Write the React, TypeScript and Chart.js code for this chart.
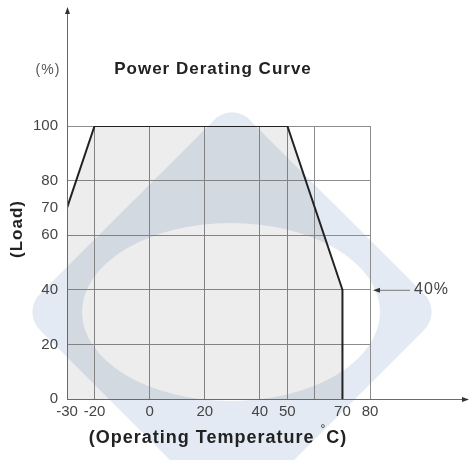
import React, { useEffect, useRef } from "react";
import { Chart, registerables } from "chart.js";

Chart.register(...registerables);

const curveTemps = [-30, -20, 50, 70, 70];
const curveLoads = [70, 100, 100, 40, 0];
const xTickLabels = [-30, -20, 0, 20, 40, 50, 70, 80];
const xGridValues = [-20, 0, 20, 40, 50, 60, 80];
const yTickLabels = [0, 20, 40, 60, 70, 80, 100];
const yGridValues = [20, 40, 60, 80, 100];
const annotationValue = 40;

const FONT = "'Liberation Sans', Arial, sans-serif";

export default function App() {
  const ref = useRef<HTMLCanvasElement | null>(null);

  useEffect(() => {
    const canvas = ref.current;
    if (!canvas) return;

    const watermark = {
      id: "watermark",
      beforeDraw(chart: any) {
        const c = chart.ctx;
        c.save();
        c.translate(232, 312);
        c.rotate(Math.PI / 4);
        c.fillStyle = "#e4eaf3";
        c.beginPath();
        (c as any).roundRect(-148.5, -148.5, 297, 297, 25);
        c.fill();
        c.restore();
        c.save();
        c.fillStyle = "#ffffff";
        c.beginPath();
        c.ellipse(231, 312, 149, 89, 0, 0, Math.PI * 2);
        c.fill();
        c.restore();
      },
    };

    const decorations = {
      id: "decorations",
      afterDraw(chart: any) {
        const c = chart.ctx as any;
        const xs = chart.scales.x;
        const ys = chart.scales.y;
        const x0 = xs.getPixelForValue(-30);
        const y0 = ys.getPixelForValue(0);
        c.save();
        // axes
        c.strokeStyle = "#6a6a6a";
        c.fillStyle = "#333";
        c.lineWidth = 1;
        c.beginPath();
        c.moveTo(x0 + 0.5, y0);
        c.lineTo(x0 + 0.5, 12);
        c.moveTo(x0, y0 + 0.5);
        c.lineTo(464, y0 + 0.5);
        c.stroke();
        c.beginPath();
        c.moveTo(x0 + 0.5, 7);
        c.lineTo(x0 - 2, 14);
        c.lineTo(x0 + 3, 14);
        c.closePath();
        c.fill();
        c.beginPath();
        c.moveTo(469, y0 + 0.5);
        c.lineTo(462, y0 - 2);
        c.lineTo(462, y0 + 3);
        c.closePath();
        c.fill();

        // 40% annotation
        const ya = ys.getPixelForValue(annotationValue);
        c.strokeStyle = "#777";
        c.beginPath();
        c.moveTo(376, ya + 0.5);
        c.lineTo(410, ya + 0.5);
        c.stroke();
        c.fillStyle = "#333";
        c.beginPath();
        c.moveTo(373, ya + 0.5);
        c.lineTo(380, ya - 2);
        c.lineTo(380, ya + 3);
        c.closePath();
        c.fill();
        c.fillStyle = "#444";
        c.letterSpacing = "1px";
        c.font = `16px ${FONT}`;
        c.textAlign = "left";
        c.textBaseline = "middle";
        c.fillText(annotationValue + "%", 414, ya);

        // title
        c.fillStyle = "#222";
        c.font = `bold 17px ${FONT}`;
        c.letterSpacing = "1px";
        c.textAlign = "center";
        c.fillText("Power Derating Curve", 213, 69);

        // (%)
        c.fillStyle = "#555";
        c.font = `14px ${FONT}`;
        c.letterSpacing = "1px";
        c.fillText("(%)", 48, 70);

        // (Load)
        c.save();
        c.translate(17, 229);
        c.rotate(-Math.PI / 2);
        c.fillStyle = "#222";
        c.font = `bold 17px ${FONT}`;
        c.letterSpacing = "1px";
        c.fillText("(Load)", 0, 0);
        c.restore();

        // x title
        c.fillStyle = "#222";
        c.letterSpacing = "1px";
        c.font = `bold 18px ${FONT}`;
        c.textAlign = "left";
        const p1 = "(Operating Temperature ";
        const p2 = "C)";
        const w1 = c.measureText(p1).width;
        const w2 = c.measureText(p2).width;
        c.font = `12px ${FONT}`;
        const wd = c.measureText("°").width;
        const total = w1 + wd + w2;
        const sx = 218 - total / 2;
        c.font = `bold 18px ${FONT}`;
        c.fillText(p1, sx, 438);
        c.font = `12px ${FONT}`;
        c.fillText("°", sx + w1, 430);
        c.font = `bold 18px ${FONT}`;
        c.fillText(p2, sx + w1 + wd, 438);
        c.restore();
      },
    };

    const chart = new Chart(canvas, {
      type: "scatter",
      data: {
        datasets: [
          {
            data: curveTemps.map((t, i) => ({ x: t, y: curveLoads[i] })),
            showLine: true,
            borderColor: "#222",
            borderWidth: 2,
            pointRadius: 0,
            fill: "origin",
            backgroundColor: "rgba(0,0,0,0.07)",
            tension: 0,
          },
        ],
      },
      options: {
        responsive: false,
        animation: false,
        layout: { padding: { left: 0, right: 101, top: 126, bottom: 31 } },
        plugins: { legend: { display: false }, tooltip: { enabled: false } },
        scales: {
          x: {
            type: "linear",
            min: -30,
            max: 80,
            afterFit: (s: any) => {
              s.height = 30;
            },
            afterBuildTicks: (s: any) => {
              const vals = Array.from(new Set([...xTickLabels, ...xGridValues])).sort((a, b) => a - b);
              s.ticks = vals.map((v) => ({ value: v }));
            },
            border: { display: false },
            grid: {
              drawTicks: false,
              lineWidth: 1,
              color: (ctx: any) =>
                ctx.tick && xGridValues.includes(ctx.tick.value) ? "#8c8c8c" : "rgba(0,0,0,0)",
            },
            ticks: {
              autoSkip: false,
              maxRotation: 0,
              padding: 4,
              color: "#444",
              font: { family: FONT, size: 15 },
              callback: (v: any) => (xTickLabels.includes(Number(v)) ? String(v) : ""),
            },
          },
          y: {
            type: "linear",
            min: 0,
            max: 100,
            afterFit: (s: any) => {
              s.width = 67;
            },
            afterBuildTicks: (s: any) => {
              s.ticks = yTickLabels.map((v) => ({ value: v }));
            },
            border: { display: false },
            grid: {
              drawTicks: false,
              lineWidth: 1,
              color: (ctx: any) =>
                ctx.tick && yGridValues.includes(ctx.tick.value) ? "#8c8c8c" : "rgba(0,0,0,0)",
            },
            ticks: {
              autoSkip: false,
              padding: 9,
              color: "#444",
              font: { family: FONT, size: 15 },
              callback: (v: any) => String(v),
            },
          },
        },
      },
      plugins: [watermark, decorations],
    });

    return () => chart.destroy();
  }, []);

  return (
    <div style={{ position: "fixed", left: 0, top: 0, width: 471, height: 460, background: "#fff" }}>
      <canvas ref={ref} width={471} height={460} style={{ width: 471, height: 460 }} />
    </div>
  );
}
